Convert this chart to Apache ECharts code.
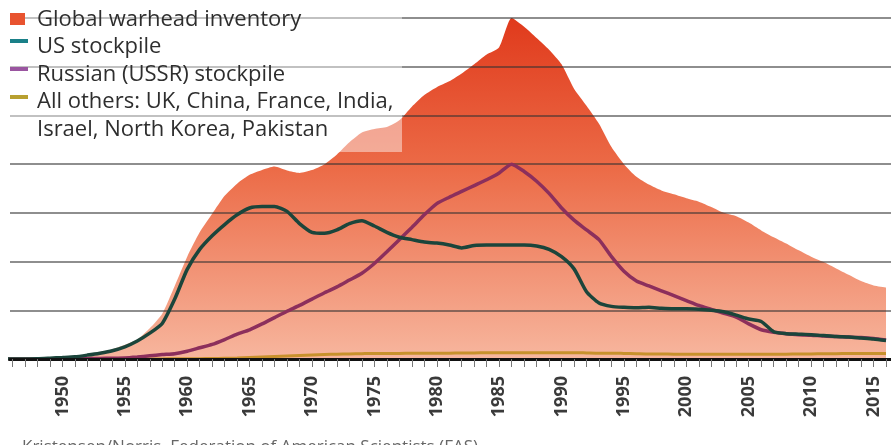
<!DOCTYPE html>
<html>
<head>
<meta charset="utf-8">
<title>Nuclear warhead stockpiles</title>
<script src="https://cdn.jsdelivr.net/npm/echarts@6/dist/echarts.min.js"></script>
<style>
  html, body { margin: 0; padding: 0; background: #fff; }
  #chart { width: 891px; height: 445px; }
</style>
</head>
<body>
<div id="chart"></div>
<script>
// values per year, first entry = firstYear
const firstYear = 1945
const globalInventory = [
  2, 9, 13, 50, 170, 300, 450, 900, 1400, 2000,
  2900, 4000, 6300, 9300, 15000, 21000, 26000, 29800, 33500, 36000,
  37800, 38800, 39500, 38700, 38200, 38800, 40000, 42000, 44500, 46500,
  47200, 47600, 49000, 51800, 54200, 55800, 57000, 58600, 60500, 62500,
  64000, 70000, 68200, 65900, 63500, 60500, 55500, 52000, 48300, 43500,
  40000, 37400, 35800, 34600, 33800, 33000, 32300, 31200, 30000, 29300,
  28000, 26400, 25000, 23700, 22300, 21000, 19900, 18600, 17300, 16000,
  15100, 14700
]
const usStockpile = [
  2, 9, 13, 50, 170, 300, 450, 800, 1200, 1700,
  2500, 3700, 5300, 7300, 12300, 18400, 22500, 25300, 27600, 29600,
  31000, 31300, 31300, 30300, 27800, 26000, 25800, 26500, 27800, 28400,
  27300, 26000, 25000, 24500, 24000, 23800, 23400, 22800, 23300, 23400,
  23400, 23400, 23400, 23200, 22500, 21000, 18500, 13800, 11500, 10800,
  10600, 10500, 10600, 10400, 10300, 10300, 10200, 10000, 9700, 9000,
  8200, 7700, 5600, 5200, 5100, 5000, 4800, 4600, 4500, 4300,
  4100, 3800
]
const russianStockpile = [
  0, 0, 0, 0, 1, 5, 25, 50, 120, 150,
  200, 400, 650, 900, 1100, 1600, 2300, 3000, 4000, 5100,
  6000, 7200, 8500, 9800, 11000, 12300, 13600, 14800, 16200, 17600,
  19600, 22000, 24500, 27000, 29600, 31900, 33200, 34400, 35600, 36800,
  38200, 40000, 38500, 36500, 34000, 31000, 28500, 26500, 24500, 21000,
  18000, 16000, 15000, 14000, 13000, 12000, 11000, 10200, 9400, 8600,
  7200, 6000, 5500, 5200, 5000, 4900, 4700, 4600, 4500, 4400,
  4200, 3900
]
const othersStockpile = [
  0, 0, 0, 0, 0, 0, 0, 1, 1, 5,
  10, 15, 20, 25, 30, 40, 60, 100, 150, 200,
  300, 400, 500, 600, 700, 800, 900, 1000, 1050, 1100,
  1150, 1150, 1150, 1200, 1200, 1200, 1200, 1250, 1250, 1300,
  1300, 1300, 1300, 1300, 1300, 1300, 1300, 1250, 1200, 1200,
  1150, 1100, 1050, 1050, 1000, 1000, 1000, 1000, 1000, 1000,
  1000, 1000, 1000, 1000, 1050, 1050, 1100, 1100, 1150, 1150,
  1150, 1150
]
const tickYears = [
  1946, 1947, 1948, 1949, 1950, 1951, 1952, 1953, 1954, 1955, 1956, 1957, 1958, 1959,
  1960, 1961, 1962, 1963, 1964, 1965, 1966, 1967, 1968, 1969, 1970, 1971, 1972, 1973,
  1974, 1975, 1976, 1977, 1978, 1979, 1980, 1981, 1982, 1983, 1984, 1985, 1986, 1987,
  1988, 1989, 1990, 1991, 1992, 1993, 1994, 1995, 1996, 1997, 1998, 1999, 2000, 2001,
  2002, 2003, 2004, 2005, 2006, 2007, 2008, 2009, 2010, 2011, 2012, 2013, 2014, 2015, 2016
]
const labelYears = [1950, 1955, 1960, 1965, 1970, 1975, 1980, 1985, 1990, 1995, 2000, 2005, 2010, 2015]

const legendNames = [
  'Global warhead inventory',
  'US stockpile',
  'Russian (USSR) stockpile',
  'All others: UK, China, France, India,\nIsrael, North Korea, Pakistan'
]

function toPairs(values) {
  return values.map((v, i) => [firstYear + i, v])
}

const font = "'Open Sans', 'Noto Sans', sans-serif"
const labelFont = "'Liberation Sans Narrow', 'Open Sans', sans-serif"
const chart = echarts.init(document.getElementById('chart'))

const options = {
  backgroundColor: '#ffffff',
  animation: false,
  grid: { left: 10, right: 0, top: 18, bottom: 86 },
  xAxis: {
    type: 'value',
    min: 1945.8,
    max: 2016.4,
    z: 5,
    splitLine: { show: false },
    axisLine: { show: true, onZero: false, lineStyle: { color: '#111', width: 3 } },
    axisTick: {
      show: true,
      customValues: tickYears,
      length: 8,
      lineStyle: { color: '#777', width: 1 }
    },
    axisLabel: {
      customValues: labelYears,
      rotate: 90,
      margin: 17,
      fontSize: 18,
      fontWeight: 'bold',
      fontFamily: labelFont,
      color: '#3a3a3a',
      formatter: v => String(v)
    }
  },
  yAxis: {
    type: 'value',
    min: 0,
    max: 70000,
    interval: 10000,
    z: 2,
    axisLine: { show: false },
    axisTick: { show: false },
    axisLabel: { show: false },
    splitLine: { show: true, lineStyle: { color: 'rgba(50,50,50,0.55)', width: 2 } }
  },
  series: [
    {
      name: legendNames[0],
      type: 'line',
      z: 1,
      smooth: 0.2,
      showSymbol: false,
      lineStyle: { width: 0 },
      areaStyle: {
        opacity: 1,
        color: new echarts.graphic.LinearGradient(0, 0, 0, 1, [
          { offset: 0, color: '#e03a1c' },
          { offset: 0.45, color: '#ec6c48' },
          { offset: 1, color: '#f7b69e' }
        ])
      },
      data: toPairs(globalInventory)
    },
    {
      name: legendNames[3],
      type: 'line',
      z: 4,
      smooth: 0.2,
      showSymbol: false,
      lineStyle: { color: '#c8912c', width: 3 },
      data: toPairs(othersStockpile)
    },
    {
      name: legendNames[2],
      type: 'line',
      z: 4,
      smooth: 0.2,
      showSymbol: false,
      lineStyle: { color: '#8c2f5c', width: 3.5 },
      data: toPairs(russianStockpile)
    },
    {
      name: legendNames[1],
      type: 'line',
      z: 4,
      smooth: 0.2,
      showSymbol: false,
      lineStyle: { color: '#1b453b', width: 3.5 },
      data: toPairs(usStockpile)
    }
  ],
  graphic: [
    // half transparent legend box over the area
    { type: 'rect', z: 3, silent: true, shape: { x: 0, y: 0, width: 402, height: 152 }, style: { fill: 'rgba(255,255,255,0.45)' } },
    { type: 'rect', z: 6, shape: { x: 10, y: 13, width: 15, height: 12 }, style: { fill: '#e8532f' } },
    { type: 'rect', z: 6, shape: { x: 10, y: 39, width: 18, height: 4 }, style: { fill: '#1a8088' } },
    { type: 'rect', z: 6, shape: { x: 10, y: 67, width: 18, height: 4 }, style: { fill: '#9a55a0' } },
    { type: 'rect', z: 6, shape: { x: 10, y: 95, width: 18, height: 4 }, style: { fill: '#b8a030' } },
    { type: 'text', z: 6, x: 37, y: 20, style: { text: legendNames[0], fill: '#2e2e2e', font: '22px ' + font, verticalAlign: 'middle' } },
    { type: 'text', z: 6, x: 37, y: 47, style: { text: legendNames[1], fill: '#2e2e2e', font: '22px ' + font, verticalAlign: 'middle' } },
    { type: 'text', z: 6, x: 37, y: 75, style: { text: legendNames[2], fill: '#2e2e2e', font: '22px ' + font, verticalAlign: 'middle' } },
    { type: 'text', z: 6, x: 37, y: 88, style: { text: legendNames[3], fill: '#2e2e2e', font: '22px ' + font, lineHeight: 28, verticalAlign: 'top' } },
    { type: 'text', z: 6, x: 22, y: 439, style: { text: 'Kristensen/Norris, Federation of American Scientists (FAS)', fill: '#666', font: '17px ' + font } }
  ]
}
chart.setOption(options)

window.addEventListener('resize', () => chart.resize())
</script>
</body>
</html>
